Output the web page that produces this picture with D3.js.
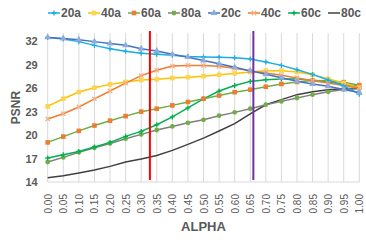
<!DOCTYPE html>
<html>
<head>
<meta charset="utf-8">
<script src="https://cdn.jsdelivr.net/npm/d3@7"></script>
<style>
  body { margin: 0; background: #fff; }
  text { font-family: "Liberation Sans", Arial, sans-serif; fill: #595959; }
</style>
</head>
<body>
<div id="chart"></div>
<script>
// 数据
const alphas = d3.range(0, 21).map(i => +(i * 0.05).toFixed(2));
const yTicks = [14, 17, 20, 23, 26, 29, 32];
const seriesNames = ['20a', '40a', '60a', '80a', '20c', '40c', '60c', '80c'];
const s20a = [32.44, 32.24, 31.9, 31.42, 31.0, 30.66, 30.43, 30.3, 30.17, 30.0, 29.95, 29.92, 29.84, 29.69, 29.31, 28.87, 28.32, 27.72, 27.0, 26.25, 25.2];
const s40a = [23.64, 24.62, 25.48, 26.03, 26.45, 26.76, 27.0, 27.1, 27.25, 27.37, 27.5, 27.67, 27.85, 28.02, 28.2, 28.2, 28.03, 27.69, 27.15, 26.63, 26.03];
const s60a = [19.05, 19.79, 20.52, 21.2, 21.82, 22.4, 22.97, 23.35, 23.77, 24.2, 24.62, 25.03, 25.45, 25.77, 26.15, 26.5, 26.76, 26.95, 26.9, 26.73, 26.35];
const s80a = [16.55, 17.14, 17.78, 18.37, 18.92, 19.52, 20.07, 20.63, 21.09, 21.55, 21.93, 22.46, 22.88, 23.35, 23.86, 24.28, 24.71, 25.14, 25.5, 25.8, 25.9];
const s20c = [32.44, 32.3, 32.15, 31.9, 31.66, 31.43, 31.0, 30.7, 30.28, 29.92, 29.5, 29.07, 28.62, 28.17, 27.75, 27.3, 26.85, 26.5, 26.2, 25.8, 25.4];
const s40c = [22.04, 22.71, 23.57, 24.59, 25.6, 26.6, 27.56, 28.25, 28.78, 28.87, 28.85, 28.75, 28.5, 28.17, 27.9, 27.6, 27.27, 26.92, 26.63, 26.32, 25.99];
const s60c = [17.06, 17.48, 17.9, 18.46, 19.05, 19.82, 20.45, 21.3, 22.3, 23.45, 24.6, 25.6, 26.3, 26.83, 27.05, 27.14, 27.14, 26.96, 26.78, 26.45, 26.19];
const s80c = [14.55, 14.8, 15.15, 15.53, 15.99, 16.55, 16.93, 17.39, 18.03, 18.8, 19.6, 20.5, 21.45, 22.7, 23.85, 24.5, 25.14, 25.5, 25.75, 25.9, 25.95];
const markLines = [0.328, 0.66];

const seriesData = [s20a, s40a, s60a, s80a, s20c, s40c, s60c, s80c];
// 样式
const styles = [
  {line: '#1CADE4', mark: '#1CADE4', shape: 'plus'},
  {line: '#FFC000', mark: '#FFD34D', shape: 'square'},
  {line: '#70AD47', mark: '#ED7D31', shape: 'square'},
  {line: '#7F7F7F', mark: '#70AD47', shape: 'circle'},
  {line: '#4472C4', mark: '#8FAADC', shape: 'triangle'},
  {line: '#ED7D31', mark: '#F4B183', shape: 'cross'},
  {line: '#00B050', mark: '#00B050', shape: 'plus'},
  {line: '#404040', mark: null, shape: null}
];
const markColors = ['#FF0000', '#7030A0'];

const W = 366, H = 242;
const m = {left: 47.7, right: 6.7, top: 33, bottom: 60};

const svg = d3.select('#chart').append('svg').attr('width', W).attr('height', H);

const x = d3.scaleLinear().domain([0, 1]).range([m.left, W - m.right]);
const y = d3.scaleLinear().domain([14, 33]).range([H - m.bottom, m.top]);

//竖直网格线
svg.append('g').selectAll('line').data(alphas).join('line')
  .attr('x1', d => x(d)).attr('x2', d => x(d))
  .attr('y1', y(33)).attr('y2', y(14))
  .attr('stroke', '#D9D9D9').attr('stroke-width', 1);
svg.append('line')
  .attr('x1', x(0)).attr('x2', x(1)).attr('y1', y(14)).attr('y2', y(14))
  .attr('stroke', '#D9D9D9');

//y轴
const yAxis = svg.append('g').attr('transform', `translate(${x(0) - 10},0)`)
  .call(d3.axisLeft(y).tickValues(yTicks).tickSize(0).tickPadding(0));
yAxis.select('.domain').remove();
yAxis.selectAll('text').attr('font-size', 11).attr('font-weight', 'bold').attr('dy', '0.35em');

//x轴
const xAxis = svg.append('g').attr('transform', `translate(0,${y(14)})`)
  .call(d3.axisBottom(x).tickValues(alphas).tickFormat(d3.format('.2f')).tickSize(0));
xAxis.select('.domain').remove();
xAxis.selectAll('text')
  .attr('font-size', 10)
  .attr('transform', 'rotate(-90)')
  .attr('text-anchor', 'end')
  .attr('x', -12).attr('y', 0).attr('dy', '0.35em');

//轴标题
svg.append('text').attr('x', (x(0) + x(1)) / 2).attr('y', 231)
  .attr('text-anchor', 'middle').attr('font-size', 13).attr('font-weight', 'bold').text('ALPHA');
svg.append('text').attr('transform', `translate(20,${(y(14) + y(33)) / 2}) rotate(-90)`)
  .attr('text-anchor', 'middle').attr('font-size', 12).attr('font-weight', 'bold').text('PSNR');

const line = d3.line().x((d, i) => x(alphas[i])).y(d => y(d));

function drawMarker(g, shape, color, cx, cy) {
  if (shape === 'square') {
    g.append('rect').attr('x', cx - 2.3).attr('y', cy - 2.3).attr('width', 4.6).attr('height', 4.6).attr('fill', color);
  } else if (shape === 'circle') {
    g.append('circle').attr('cx', cx).attr('cy', cy).attr('r', 2.4).attr('fill', color);
  } else if (shape === 'triangle') {
    g.append('path').attr('d', d3.symbol(d3.symbolTriangle, 20)()).attr('transform', `translate(${cx},${cy})`).attr('fill', color);
  } else if (shape === 'plus') {
    g.append('path').attr('d', `M${cx - 2.5},${cy}H${cx + 2.5}M${cx},${cy - 2.5}V${cy + 2.5}`).attr('stroke', color).attr('stroke-width', 1.3);
  } else if (shape === 'cross') {
    g.append('path').attr('d', `M${cx - 2.2},${cy - 2.2}L${cx + 2.2},${cy + 2.2}M${cx - 2.2},${cy + 2.2}L${cx + 2.2},${cy - 2.2}`).attr('stroke', color).attr('stroke-width', 1.3);
  }
}

//折线
const order = [7, 3, 6, 2, 1, 5, 0, 4];
order.forEach(k => {
  const g = svg.append('g');
  g.append('path').attr('d', line(seriesData[k]))
    .attr('fill', 'none').attr('stroke', styles[k].line).attr('stroke-width', 1.5);
  if (styles[k].shape) {
    seriesData[k].forEach((v, i) => drawMarker(g, styles[k].shape, styles[k].mark, x(alphas[i]), y(v)));
  }
});

//标记竖线
svg.append('g').selectAll('line').data(markLines).join('line')
  .attr('x1', d => x(d)).attr('x2', d => x(d))
  .attr('y1', 31).attr('y2', 180)
  .attr('stroke', (d, i) => markColors[i]).attr('stroke-width', 2);

//图例
const legend = svg.append('g').attr('transform', 'translate(48,13)');
seriesNames.forEach((name, k) => {
  const g = legend.append('g').attr('transform', `translate(${k * 40},0)`);
  g.append('line').attr('x1', 0).attr('x2', 12).attr('y1', 0).attr('y2', 0)
    .attr('stroke', styles[k].line).attr('stroke-width', 1.5);
  if (styles[k].shape) drawMarker(g, styles[k].shape, styles[k].mark, 6, 0);
  g.append('text').attr('x', 13).attr('y', 0).attr('dy', '0.35em')
    .attr('font-size', 12).attr('font-weight', 'bold').text(name);
});
</script>
</body>
</html>
